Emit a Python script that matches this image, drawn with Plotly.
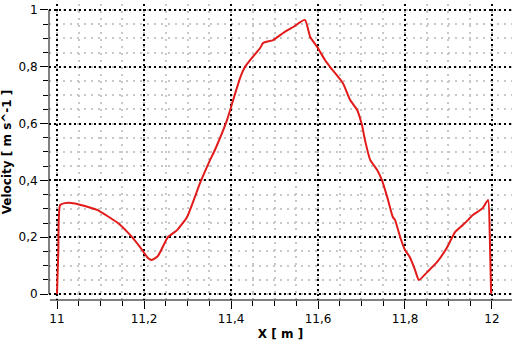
import plotly.graph_objects as go

x_m = [11.0, 11.003, 11.007, 11.018, 11.041, 11.092, 11.140, 11.168, 11.191, 11.209, 11.218,
       11.232, 11.255, 11.276, 11.299, 11.329, 11.352, 11.363, 11.391, 11.405, 11.421, 11.432,
       11.448, 11.467, 11.474, 11.497, 11.520, 11.543, 11.570, 11.582, 11.598, 11.616, 11.628,
       11.657, 11.674, 11.690, 11.701, 11.708, 11.720, 11.736, 11.747, 11.759, 11.772, 11.777,
       11.789, 11.800, 11.811, 11.823, 11.832, 11.851, 11.874, 11.897, 11.915, 11.933, 11.945,
       11.956, 11.979, 11.991, 11.995, 11.998]
velocity = [0.0, 0.15, 0.313, 0.32, 0.319, 0.296, 0.25, 0.208, 0.165, 0.127, 0.12,
            0.134, 0.2, 0.225, 0.271, 0.391, 0.472, 0.507, 0.613, 0.683, 0.761, 0.799,
            0.831, 0.866, 0.884, 0.894, 0.919, 0.94, 0.965, 0.905, 0.87, 0.824, 0.799,
            0.743, 0.683, 0.648, 0.595, 0.542, 0.472, 0.437, 0.401, 0.342, 0.271, 0.261,
            0.2, 0.155, 0.13, 0.085, 0.049, 0.077, 0.113, 0.165, 0.218, 0.243, 0.261,
            0.278, 0.303, 0.331, 0.2, 0.0]

x_ticks = [11.0, 11.2, 11.4, 11.6, 11.8, 12.0]
x_labels = ["11", "11,2", "11,4", "11,6", "11,8", "12"]
y_ticks = [0.0, 0.2, 0.4, 0.6, 0.8, 1.0]
y_labels = ["0", "0,2", "0,4", "0,6", "0,8", "1"]

font_family = "DejaVu Sans"

fig = go.Figure()
fig.add_trace(go.Scatter(x=x_m, y=velocity, mode="lines",
                         line=dict(color="#e21a1a", width=2, shape="spline", smoothing=0.5),
                         showlegend=False))

major = dict(showgrid=True, gridcolor="black", gridwidth=2, griddash="2px,3px",
             ticks="outside", ticklen=8, tickwidth=1, tickcolor="black",
             showline=False, zeroline=False,
             tickfont=dict(family=font_family, size=12, color="black"))

minor = dict(showgrid=True, gridcolor="#c8c8c8", gridwidth=2, griddash="2px,5px",
             ticks="outside", ticklen=5, tickcolor="black")

fig.update_xaxes(range=[10.9816, 12.046], tickvals=x_ticks, ticktext=x_labels,
                 title=dict(text="<b>X [ m ]</b>", font=dict(family=font_family, size=12, color="black"),
                            standoff=4),
                 minor=dict(dtick=0.05, tick0=11, **minor),
                 **major)
fig.update_yaxes(range=[-0.0211, 1.021], tickvals=y_ticks, ticktext=y_labels,
                 title=dict(text="<b>Velocity [ m s^-1 ]</b>", font=dict(family=font_family, size=12, color="black"),
                            standoff=8),
                 minor=dict(dtick=0.05, tick0=0, **minor),
                 **major)

fig.add_shape(type="line", xref="paper", yref="y", x0=0, x1=0, y0=0, y1=1,
              line=dict(color="black", width=1))
fig.add_shape(type="line", xref="paper", yref="paper", x0=0.002, x1=1, y0=0, y1=0,
              line=dict(color="black", width=1))

fig.update_layout(width=512, height=345, margin=dict(l=49, r=0, t=4, b=45),
                  plot_bgcolor="white", paper_bgcolor="white",
                  font=dict(family=font_family, size=12, color="black"))

fig.write_html("out.html")
